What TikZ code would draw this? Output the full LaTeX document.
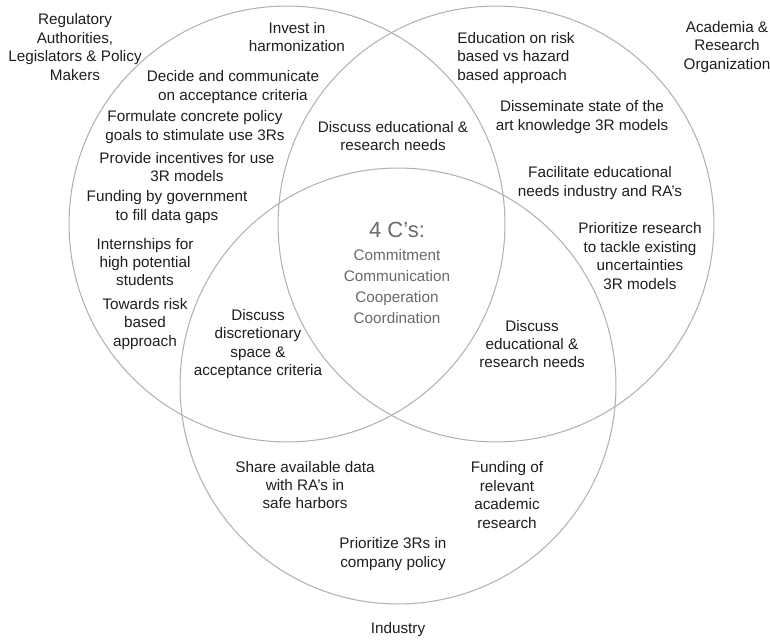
\documentclass[tikz,border=0pt]{standalone}
\usepackage{fontspec}
\setmainfont{Liberation Sans}
\usepackage{xcolor}
\usetikzlibrary{positioning}
\definecolor{ringgray}{RGB}{178,178,178}
\definecolor{txtdark}{RGB}{30,30,30}
\definecolor{txtgray}{RGB}{105,105,105}

\begin{document}
\begin{tikzpicture}[x=0.02cm, y=-0.02cm]
        % ================= styles =================
        \tikzset{
            % the three big circles
            ring/.style={circle, draw=ringgray, line width=0.6pt, minimum size=8.72cm, inner sep=0pt},
            % ordinary text blocks
            lbl/.style={align=center, inner sep=0pt, text=txtdark, font=\fontsize{8.7}{10.5}\selectfont},
            % text of the centre
            core/.style={align=center, inner sep=0pt, text=txtgray, font=\fontsize{8.7}{11.8}\selectfont},
            corehead/.style={inner sep=0pt, text=txtgray, font=\fontsize{12.5}{14}\selectfont}
        }
        \useasboundingbox (0,0) rectangle (770,641);

        % ================= 1. circles =================
        \node[ring] (regc) at (287,224) {};
        \node[ring] (acac) at (496,224) {};
        \node[ring] (indc) at (398,386) {};

        % ================= 2. group names =================
        \node[lbl] (regname) at (75,47) {Regulatory\\Authorities,\\Legislators \& Policy\\Makers};
        \node[lbl] (acaname) at (727,47) {Academia \&\\Research\\Organization};
        \node[lbl] (indname) at (398,630) {Industry};

        % ================= 3. regulators only =================
        \node[lbl] (invest) at (297,37) {Invest in\\harmonization};
        \node[lbl] (decide) at (233,87) {Decide and communicate\\on acceptance criteria};
        \node[lbl] (goals) at (195,127) {Formulate concrete policy\\goals to stimulate use 3Rs};
        \node[lbl] (incent) at (187,167) {Provide incentives for use\\3R models};
        \node[lbl] (govfund) at (167,207) {Funding by government\\to fill data gaps};
        \node[lbl] (intern) at (145,262) {Internships for\\high potential\\students};
        \node[lbl] (towards) at (145,324) {Towards risk\\based\\approach};

        % ================= 4. academia only =================
        \node[lbl, align=left, anchor=west] (educ) at (457,58) {Education on risk\\based vs hazard\\based approach};
        \node[lbl] (dissem) at (582,117) {Disseminate state of the\\art knowledge 3R models};
        \node[lbl] (facil) at (600,183) {Facilitate educational\\needs industry and RA's};
        \node[lbl] (priores) at (640,256) {Prioritize research\\to tackle existing\\uncertainties\\3R models};

        % ================= 5. industry only =================
        \node[lbl] (share) at (305,485) {Share available data\\with RA's in\\safe harbors};
        \node[lbl] (indfund) at (507,495) {Funding of\\relevant\\academic\\research};
        \node[lbl] (prio3r) at (393,554) {Prioritize 3Rs in\\company policy};

        % ================= 6. overlaps =================
        \node[lbl] (regaca) at (393,136) {Discuss educational \&\\research needs};
        \node[lbl] (regind) at (258,344) {Discuss\\discretionary\\space \&\\acceptance criteria};
        \node[lbl] (acaind) at (532,344) {Discuss\\educational \&\\research needs};

        % ================= 7. centre =================
        \node[corehead] (fourc) at (397,230) {4 C's:};
        \node[core, below=6.5pt of fourc] (cwords) {Commitment\\Communication\\Cooperation\\Coordination};

    \end{tikzpicture}
\end{document}
